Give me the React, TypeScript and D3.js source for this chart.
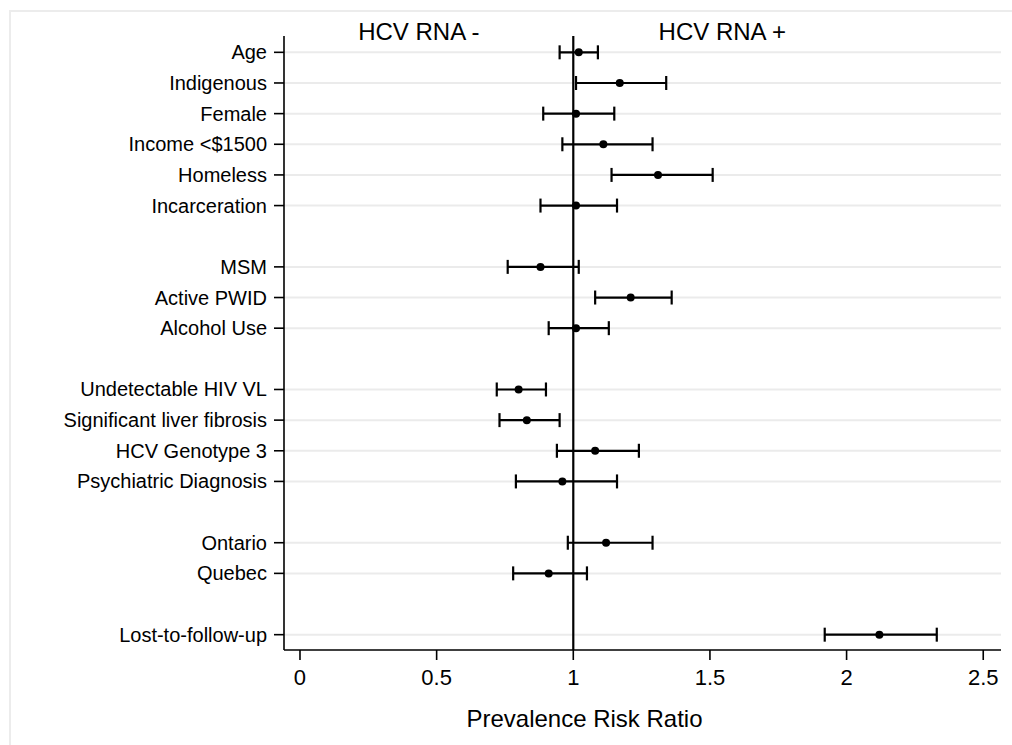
import React, { useEffect } from 'react';
import * as d3 from 'd3';

// rows top to bottom, "" = spacer row between groups
const labels = [
  'Age', 'Indigenous', 'Female', 'Income <$1500', 'Homeless', 'Incarceration', '',
  'MSM', 'Active PWID', 'Alcohol Use', '',
  'Undetectable HIV VL', 'Significant liver fibrosis', 'HCV Genotype 3', 'Psychiatric Diagnosis', '',
  'Ontario', 'Quebec', '',
  'Lost-to-follow-up',
];
const estimate = [1.02, 1.17, 1.01, 1.11, 1.31, 1.01, null, 0.88, 1.21, 1.01, null, 0.80, 0.83, 1.08, 0.96, null, 1.12, 0.91, null, 2.12];
const lower = [0.95, 1.01, 0.89, 0.96, 1.14, 0.88, null, 0.76, 1.08, 0.91, null, 0.72, 0.73, 0.94, 0.79, null, 0.98, 0.78, null, 1.92];
const upper = [1.09, 1.34, 1.15, 1.29, 1.51, 1.16, null, 1.02, 1.36, 1.13, null, 0.90, 0.95, 1.24, 1.16, null, 1.29, 1.05, null, 2.33];

const xTicks = [0, 0.5, 1, 1.5, 2, 2.5];
const sideLabels = [
  { text: 'HCV RNA -', at: 0.435 },
  { text: 'HCV RNA +', at: 1.545 },
];
const xTitle = 'Prevalence Risk Ratio';

const font = '"Liberation Sans", Arial, Helvetica, sans-serif';

export default function App() {
  useEffect(() => {
    document.body.style.margin = '0';
  }, []);

  const left = 284, right = 1001, top = 36, bottom = 650;

  const x = d3.scaleLinear().domain([-0.0585, 2.565]).range([left, right]);
  const y = d3.scalePoint<number>()
    .domain(d3.range(labels.length))
    .range([top + 1, bottom])
    .padding(0.5);

  const rows = labels.map((label, i) => ({ label, i, est: estimate[i], lo: lower[i], hi: upper[i] }))
    .filter((d) => d.label !== '');

  return (
    <svg width={1012} height={745} style={{ display: 'block', fontFamily: font }}>
      <rect x={0} y={0} width={1012} height={745} fill="#fff" />
      {/* outer frame */}
      <rect x={10} y={11} width={1200} height={900} fill="none" stroke="#ececec" strokeWidth={2} />

      {/* gridlines */}
      {rows.map((d) => (
        <line key={'g' + d.i} x1={left} x2={right} y1={y(d.i)} y2={y(d.i)} stroke="#ebebeb" strokeWidth={2} />
      ))}

      {/* axes */}
      <line x1={left} x2={left} y1={top} y2={bottom} stroke="#000" strokeWidth={1.6} />
      <line x1={left} x2={right} y1={bottom} y2={bottom} stroke="#000" strokeWidth={1.6} />

      {rows.map((d) => (
        <g key={'y' + d.i} transform={`translate(0,${y(d.i)})`}>
          <line x1={left - 10} x2={left} stroke="#000" strokeWidth={1.6} />
          <text x={left - 17} dy="0.35em" textAnchor="end" fontSize={20} fill="#000">{d.label}</text>
        </g>
      ))}

      {xTicks.map((t) => (
        <g key={'x' + t} transform={`translate(${x(t)},0)`}>
          <line y1={bottom} y2={bottom + 10} stroke="#000" strokeWidth={1.6} />
          <text y={bottom + 35} textAnchor="middle" fontSize={22} fill="#000">{String(t)}</text>
        </g>
      ))}

      <text x={584.5} y={726.5} textAnchor="middle" fontSize={24} fill="#000">{xTitle}</text>

      {sideLabels.map((s) => (
        <text key={s.text} x={x(s.at)} y={40} textAnchor="middle" fontSize={24} fill="#000">{s.text}</text>
      ))}

      {/* reference line at 1 */}
      <line x1={x(1)} x2={x(1)} y1={top} y2={bottom} stroke="#000" strokeWidth={2.2} />

      {/* CIs and estimates */}
      {rows.map((d) => {
        const cy = y(d.i) as number;
        return (
          <g key={'e' + d.i} stroke="#000" strokeWidth={2.2}>
            <line x1={x(d.lo as number)} x2={x(d.hi as number)} y1={cy} y2={cy} />
            <line x1={x(d.lo as number)} x2={x(d.lo as number)} y1={cy - 7} y2={cy + 7} />
            <line x1={x(d.hi as number)} x2={x(d.hi as number)} y1={cy - 7} y2={cy + 7} />
            <circle cx={x(d.est as number)} cy={cy} r={4} fill="#000" stroke="none" />
          </g>
        );
      })}
    </svg>
  );
}
